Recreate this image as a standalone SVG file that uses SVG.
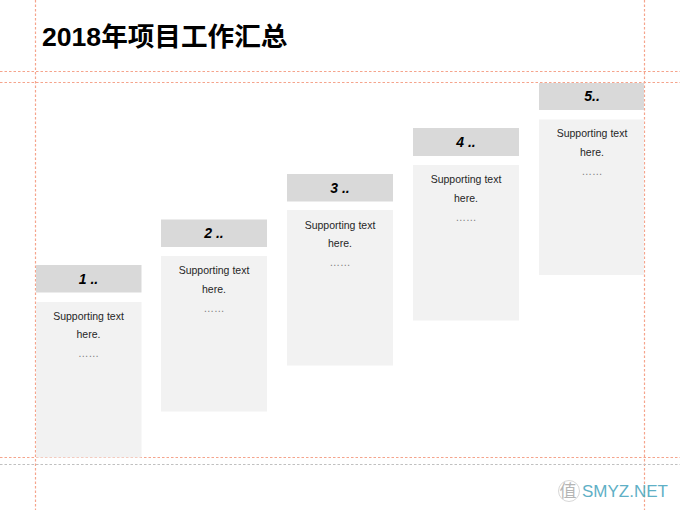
<svg xmlns="http://www.w3.org/2000/svg" width="680" height="510" viewBox="0 0 680 510">
<style>
.bg{fill:#fff}
.guide{stroke:#f5a48c;stroke-width:1.2;stroke-dasharray:2.500 2;fill:none}
.guide2{stroke:#c0c0c0;stroke-width:1.200;stroke-dasharray:2.500 2;fill:none}
.head{fill:#d9d9d9}
.body{fill:#f2f2f2}
text{font-family:"Liberation Sans","Noto Sans CJK SC",sans-serif;text-anchor:middle}
.title{font-size:26.6px;font-weight:700;fill:#000;text-anchor:start}
.h{font-size:14px;font-weight:700;font-style:italic;fill:#000}
.t{font-size:10.5px;fill:#262626}
.d{font-size:10.5px;fill:#7f7f7f}
</style>
<rect class="bg" width="680" height="510"/>
<g id="guides">
<path class="guide" d="M35.500 0V510M644.500 0V510M0 71.500H680M0 82.500H680M0 457.500H680"/>
<path class="guide2" d="M0 464.500H680"/>
</g>
<text id="title" class="title" x="42" y="46">2018年项目工作汇总</text>
<g id="step1">
<rect class="head" x="36" y="265" width="105.500" height="27.500"/>
<rect class="body" x="36" y="302" width="105.500" height="155.500"/>
<text class="h" x="88.500" y="284">1 ..</text>
<text class="t" x="88.500" y="320">Supporting text</text>
<text class="t" x="88.500" y="338">here.</text>
<text class="d" x="88.500" y="357">……</text>
</g>
<g id="step2">
<rect class="head" x="161" y="219.500" width="106" height="27.500"/>
<rect class="body" x="161" y="256" width="106" height="155.500"/>
<text class="h" x="214" y="238">2 ..</text>
<text class="t" x="214" y="274">Supporting text</text>
<text class="t" x="214" y="293">here.</text>
<text class="d" x="214" y="312">……</text>
</g>
<g id="step3">
<rect class="head" x="287" y="174" width="106" height="27.500"/>
<rect class="body" x="287" y="210" width="106" height="155.500"/>
<text class="h" x="340" y="193">3 ..</text>
<text class="t" x="340" y="229">Supporting text</text>
<text class="t" x="340" y="247">here.</text>
<text class="d" x="340" y="266">……</text>
</g>
<g id="step4">
<rect class="head" x="413" y="128" width="106" height="28"/>
<rect class="body" x="413" y="165" width="106" height="155.500"/>
<text class="h" x="466" y="147">4 ..</text>
<text class="t" x="466" y="183">Supporting text</text>
<text class="t" x="466" y="202">here.</text>
<text class="d" x="466" y="221">……</text>
</g>
<g id="step5">
<rect class="head" x="539" y="83" width="105" height="27"/>
<rect class="body" x="539" y="119.500" width="105" height="155.500"/>
<text class="h" x="592" y="101">5..</text>
<text class="t" x="592" y="137">Supporting text</text>
<text class="t" x="592" y="156">here.</text>
<text class="d" x="592" y="175">……</text>
</g>
<g id="watermark">
<circle cx="569" cy="491" r="10.500" fill="none" stroke="#d8d8d8" stroke-width="1"/>
<text x="568" y="497" font-size="17" style="fill:#b5b5b5">值</text>
<text x="625" y="497" font-size="17" style="fill:#5fb0c6">SMYZ.NET</text>
</g>
</svg>
